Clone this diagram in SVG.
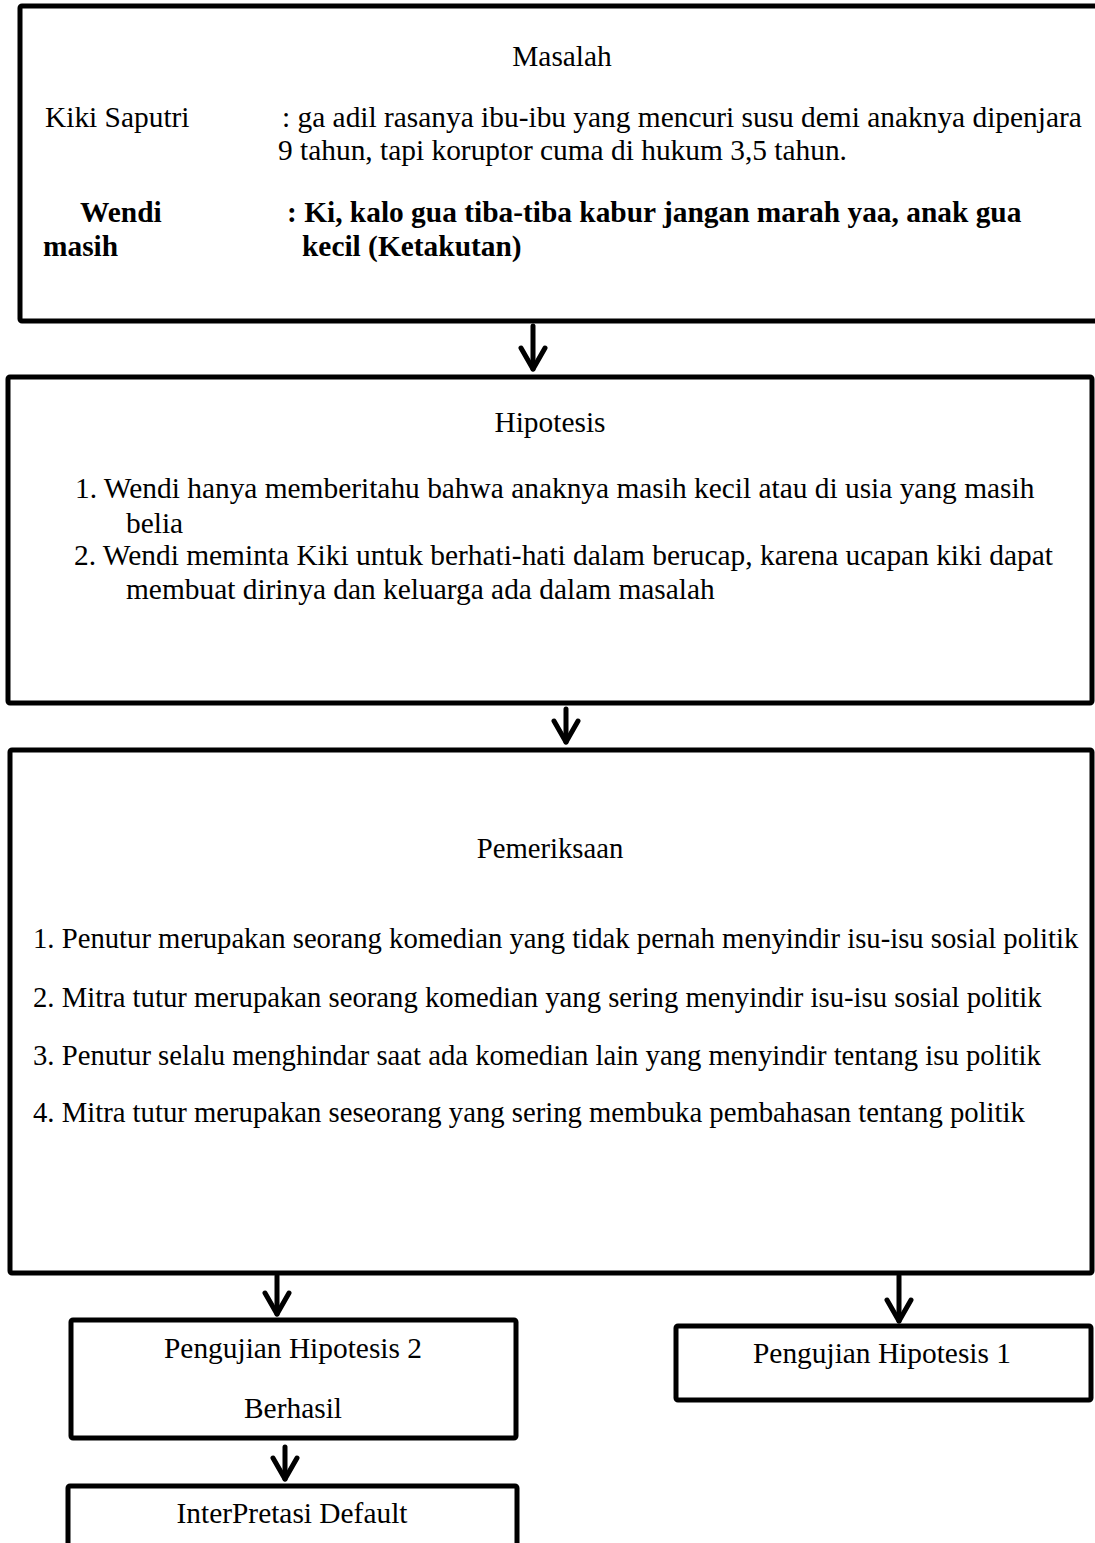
<svg xmlns="http://www.w3.org/2000/svg" width="1095" height="1543" viewBox="0 0 1095 1543">
<style>
  .box { fill: #fff; stroke: #000; stroke-width: 5; }
  .t { font-family: "Liberation Serif", "Times New Roman", serif; font-size: 29.4px; fill: #000; }
  .s { font-size: 28.7px; }
  .c { text-anchor: middle; }
  .b { font-weight: bold; }
  .con { fill: none; stroke: #000; stroke-width: 5; stroke-linecap: round; }
</style>
<defs>
  <marker id="head" markerUnits="userSpaceOnUse" markerWidth="30" markerHeight="30" refX="25" refY="15" orient="auto" viewBox="0 0 30 30">
    <path d="M4 3 L25 15 L4 27" fill="none" stroke="#000" stroke-width="5" stroke-linecap="round" stroke-linejoin="round"/>
  </marker>
</defs>
<rect width="1095" height="1543" fill="#fff"/>

<g id="masalah">
  <rect class="box" x="20" y="6" width="1090" height="315" rx="2"/>
  <text class="t c" x="562" y="66">Masalah</text>
  <text class="t" x="45" y="127">Kiki Saputri</text>
  <text class="t" x="282" y="127">: ga adil rasanya ibu-ibu yang mencuri susu demi anaknya dipenjara</text>
  <text class="t" x="278" y="160">9 tahun, tapi koruptor cuma di hukum 3,5 tahun.</text>
  <text class="t b" x="80" y="222">Wendi</text>
  <text class="t b" x="287" y="222">: Ki, kalo gua tiba-tiba kabur jangan marah yaa, anak gua</text>
  <text class="t b" x="43" y="256">masih</text>
  <text class="t b" x="302" y="256">kecil (Ketakutan)</text>
</g>

<g id="hipotesis">
  <rect class="box" x="8" y="377" width="1084" height="326" rx="2"/>
  <text class="t c" x="550" y="432">Hipotesis</text>
  <text class="t" x="75" y="498">1. Wendi hanya memberitahu bahwa anaknya masih kecil atau di usia yang masih</text>
  <text class="t" x="126" y="533">belia</text>
  <text class="t" x="74" y="565">2. Wendi meminta Kiki untuk berhati-hati dalam berucap, karena ucapan kiki dapat</text>
  <text class="t" x="126" y="599">membuat dirinya dan keluarga ada dalam masalah</text>
</g>

<g id="pemeriksaan">
  <rect class="box" x="10" y="750" width="1082" height="523" rx="2"/>
  <text class="t s c" x="550" y="858">Pemeriksaan</text>
  <text class="t s" x="33" y="948">1. Penutur merupakan seorang komedian yang tidak pernah menyindir isu-isu sosial politik</text>
  <text class="t s" x="33" y="1007">2. Mitra tutur merupakan seorang komedian yang sering menyindir isu-isu sosial politik</text>
  <text class="t s" x="33" y="1065">3. Penutur selalu menghindar saat ada komedian lain yang menyindir tentang isu politik</text>
  <text class="t s" x="33" y="1122">4. Mitra tutur merupakan seseorang yang sering membuka pembahasan tentang politik</text>
</g>

<g id="pengujian2">
  <rect class="box" x="71" y="1320" width="445" height="118" rx="2"/>
  <text class="t c" x="293" y="1358">Pengujian Hipotesis 2</text>
  <text class="t c" x="293" y="1418">Berhasil</text>
</g>

<g id="pengujian1">
  <rect class="box" x="676" y="1326" width="415" height="74" rx="2"/>
  <text class="t c" x="882" y="1363">Pengujian Hipotesis 1</text>
</g>

<g id="interpretasi">
  <rect class="box" x="68" y="1486" width="449" height="80" rx="2"/>
  <text class="t c" x="292" y="1523">InterPretasi Default</text>
</g>

<g id="connectors">
  <path class="con" d="M533 326 V369" marker-end="url(#head)"/>
  <path class="con" d="M566 709 V742" marker-end="url(#head)"/>
  <path class="con" d="M277 1276 V1314" marker-end="url(#head)"/>
  <path class="con" d="M899 1276 V1321" marker-end="url(#head)"/>
  <path class="con" d="M285 1447 V1479" marker-end="url(#head)"/>
</g>
</svg>
